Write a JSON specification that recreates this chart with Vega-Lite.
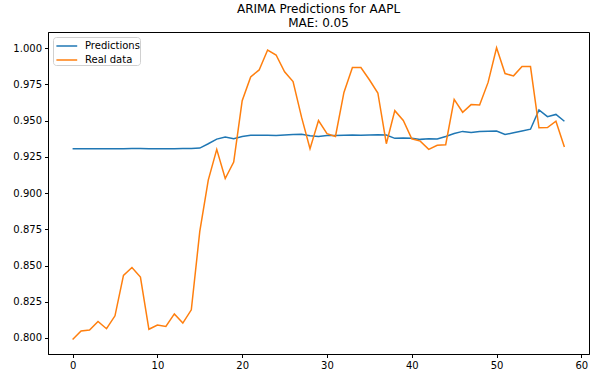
{
  "$schema": "https://vega.github.io/schema/vega-lite/v6.json",
  "width": 541,
  "height": 322,
  "autosize": {"type": "none"},
  "padding": {"left": 48, "top": 32, "right": 14, "bottom": 24},
  "background": "white",
  "config": {
    "font": "DejaVu Sans",
    "view": {"stroke": "black", "strokeWidth": 1},
    "axis": {"grid": false, "domainColor": "black", "tickColor": "black", "labelColor": "black", "labelFontSize": 10, "labelFont": "DejaVu Sans", "tickSize": 3.5, "labelPadding": 3}
  },
  "title": {
    "text": ["ARIMA Predictions for AAPL", "MAE: 0.05"],
    "fontSize": 12,
    "fontWeight": "normal",
    "font": "DejaVu Sans",
    "color": "black",
    "anchor": "middle",
    "lineHeight": 14,
    "offset": 2
  },
  "data": {
    "values": [
      {"t": 0, "series": "Predictions", "v": 0.9305},
      {"t": 1, "series": "Predictions", "v": 0.9305},
      {"t": 2, "series": "Predictions", "v": 0.9305},
      {"t": 3, "series": "Predictions", "v": 0.9305},
      {"t": 4, "series": "Predictions", "v": 0.9305},
      {"t": 5, "series": "Predictions", "v": 0.9305},
      {"t": 6, "series": "Predictions", "v": 0.9306},
      {"t": 7, "series": "Predictions", "v": 0.9307},
      {"t": 8, "series": "Predictions", "v": 0.9307},
      {"t": 9, "series": "Predictions", "v": 0.9306},
      {"t": 10, "series": "Predictions", "v": 0.9306},
      {"t": 11, "series": "Predictions", "v": 0.9306},
      {"t": 12, "series": "Predictions", "v": 0.9306},
      {"t": 13, "series": "Predictions", "v": 0.9307},
      {"t": 14, "series": "Predictions", "v": 0.9307},
      {"t": 15, "series": "Predictions", "v": 0.9310},
      {"t": 16, "series": "Predictions", "v": 0.9340},
      {"t": 17, "series": "Predictions", "v": 0.9372},
      {"t": 18, "series": "Predictions", "v": 0.9386},
      {"t": 19, "series": "Predictions", "v": 0.9375},
      {"t": 20, "series": "Predictions", "v": 0.9390},
      {"t": 21, "series": "Predictions", "v": 0.9398},
      {"t": 22, "series": "Predictions", "v": 0.9398},
      {"t": 23, "series": "Predictions", "v": 0.9398},
      {"t": 24, "series": "Predictions", "v": 0.9397},
      {"t": 25, "series": "Predictions", "v": 0.9401},
      {"t": 26, "series": "Predictions", "v": 0.9404},
      {"t": 27, "series": "Predictions", "v": 0.9405},
      {"t": 28, "series": "Predictions", "v": 0.9395},
      {"t": 29, "series": "Predictions", "v": 0.9390},
      {"t": 30, "series": "Predictions", "v": 0.9397},
      {"t": 31, "series": "Predictions", "v": 0.9397},
      {"t": 32, "series": "Predictions", "v": 0.9399},
      {"t": 33, "series": "Predictions", "v": 0.9400},
      {"t": 34, "series": "Predictions", "v": 0.9398},
      {"t": 35, "series": "Predictions", "v": 0.9401},
      {"t": 36, "series": "Predictions", "v": 0.9402},
      {"t": 37, "series": "Predictions", "v": 0.9400},
      {"t": 38, "series": "Predictions", "v": 0.9377},
      {"t": 39, "series": "Predictions", "v": 0.9380},
      {"t": 40, "series": "Predictions", "v": 0.9377},
      {"t": 41, "series": "Predictions", "v": 0.9370},
      {"t": 42, "series": "Predictions", "v": 0.9374},
      {"t": 43, "series": "Predictions", "v": 0.9373},
      {"t": 44, "series": "Predictions", "v": 0.9390},
      {"t": 45, "series": "Predictions", "v": 0.9410},
      {"t": 46, "series": "Predictions", "v": 0.9425},
      {"t": 47, "series": "Predictions", "v": 0.9418},
      {"t": 48, "series": "Predictions", "v": 0.9424},
      {"t": 49, "series": "Predictions", "v": 0.9426},
      {"t": 50, "series": "Predictions", "v": 0.9427},
      {"t": 51, "series": "Predictions", "v": 0.9404},
      {"t": 52, "series": "Predictions", "v": 0.9415},
      {"t": 53, "series": "Predictions", "v": 0.9427},
      {"t": 54, "series": "Predictions", "v": 0.9440},
      {"t": 55, "series": "Predictions", "v": 0.9573},
      {"t": 56, "series": "Predictions", "v": 0.9527},
      {"t": 57, "series": "Predictions", "v": 0.9542},
      {"t": 58, "series": "Predictions", "v": 0.9495},
      {"t": 0, "series": "Real data", "v": 0.7990},
      {"t": 1, "series": "Real data", "v": 0.8048},
      {"t": 2, "series": "Real data", "v": 0.8055},
      {"t": 3, "series": "Real data", "v": 0.8114},
      {"t": 4, "series": "Real data", "v": 0.8064},
      {"t": 5, "series": "Real data", "v": 0.8153},
      {"t": 6, "series": "Real data", "v": 0.8432},
      {"t": 7, "series": "Real data", "v": 0.8486},
      {"t": 8, "series": "Real data", "v": 0.8420},
      {"t": 9, "series": "Real data", "v": 0.8060},
      {"t": 10, "series": "Real data", "v": 0.8089},
      {"t": 11, "series": "Real data", "v": 0.8080},
      {"t": 12, "series": "Real data", "v": 0.8166},
      {"t": 13, "series": "Real data", "v": 0.8103},
      {"t": 14, "series": "Real data", "v": 0.8194},
      {"t": 15, "series": "Real data", "v": 0.8735},
      {"t": 16, "series": "Real data", "v": 0.9089},
      {"t": 17, "series": "Real data", "v": 0.9301},
      {"t": 18, "series": "Real data", "v": 0.9100},
      {"t": 19, "series": "Real data", "v": 0.9214},
      {"t": 20, "series": "Real data", "v": 0.9637},
      {"t": 21, "series": "Real data", "v": 0.9801},
      {"t": 22, "series": "Real data", "v": 0.9849},
      {"t": 23, "series": "Real data", "v": 0.9986},
      {"t": 24, "series": "Real data", "v": 0.9952},
      {"t": 25, "series": "Real data", "v": 0.9836},
      {"t": 26, "series": "Real data", "v": 0.9769},
      {"t": 27, "series": "Real data", "v": 0.9523},
      {"t": 28, "series": "Real data", "v": 0.9306},
      {"t": 29, "series": "Real data", "v": 0.9500},
      {"t": 30, "series": "Real data", "v": 0.9409},
      {"t": 31, "series": "Real data", "v": 0.9390},
      {"t": 32, "series": "Real data", "v": 0.9694},
      {"t": 33, "series": "Real data", "v": 0.9865},
      {"t": 34, "series": "Real data", "v": 0.9865},
      {"t": 35, "series": "Real data", "v": 0.9781},
      {"t": 36, "series": "Real data", "v": 0.9690},
      {"t": 37, "series": "Real data", "v": 0.9340},
      {"t": 38, "series": "Real data", "v": 0.9568},
      {"t": 39, "series": "Real data", "v": 0.9500},
      {"t": 40, "series": "Real data", "v": 0.9374},
      {"t": 41, "series": "Real data", "v": 0.9358},
      {"t": 42, "series": "Real data", "v": 0.9301},
      {"t": 43, "series": "Real data", "v": 0.9329},
      {"t": 44, "series": "Real data", "v": 0.9333},
      {"t": 45, "series": "Real data", "v": 0.9646},
      {"t": 46, "series": "Real data", "v": 0.9557},
      {"t": 47, "series": "Real data", "v": 0.9610},
      {"t": 48, "series": "Real data", "v": 0.9607},
      {"t": 49, "series": "Real data", "v": 0.9763},
      {"t": 50, "series": "Real data", "v": 1.0002},
      {"t": 51, "series": "Real data", "v": 0.9824},
      {"t": 52, "series": "Real data", "v": 0.9808},
      {"t": 53, "series": "Real data", "v": 0.9872},
      {"t": 54, "series": "Real data", "v": 0.9872},
      {"t": 55, "series": "Real data", "v": 0.9450},
      {"t": 56, "series": "Real data", "v": 0.9452},
      {"t": 57, "series": "Real data", "v": 0.9495},
      {"t": 58, "series": "Real data", "v": 0.9317}
    ]
  },
  "mark": {"type": "line", "strokeWidth": 1.5, "clip": true},
  "encoding": {
    "x": {
      "field": "t", "type": "quantitative",
      "scale": {"domain": [-2.9, 60.9], "nice": false, "zero": false},
      "axis": {"values": [0, 10, 20, 30, 40, 50, 60], "title": null, "format": "d"}
    },
    "y": {
      "field": "v", "type": "quantitative",
      "scale": {"domain": [0.78896, 1.01106], "nice": false, "zero": false},
      "axis": {"values": [0.8, 0.825, 0.85, 0.875, 0.9, 0.925, 0.95, 0.975, 1.0], "format": ".3f", "title": null}
    },
    "color": {
      "field": "series", "type": "nominal",
      "scale": {"domain": ["Predictions", "Real data"], "range": ["#1f77b4", "#ff7f0e"]},
      "legend": {
        "title": null,
        "orient": "none",
        "legendX": 5,
        "legendY": 5,
        "symbolType": "M-0.7,0H1.9",
        "symbolSize": 256,
        "symbolStrokeWidth": 1.5,
        "labelOffset": 14,
        "labelFontSize": 10,
        "labelFont": "DejaVu Sans",
        "labelColor": "black",
        "rowPadding": 0,
        "padding": 0,
        "strokeColor": "#d0d0d0",
        "fillColor": "white",
        "cornerRadius": 3
      }
    }
  }
}
